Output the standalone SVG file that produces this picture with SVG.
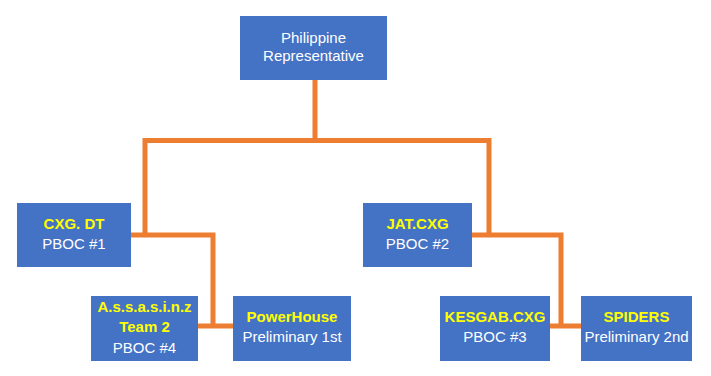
<svg xmlns="http://www.w3.org/2000/svg" width="711" height="376" viewBox="0 0 711 376">
<style>
.box{fill:#4472C4}
.t{font-family:"Liberation Sans",Arial,sans-serif;font-size:15px;fill:#FFFFFF;text-anchor:middle}
.y{font-weight:bold;fill:#FFFF00}
.c{fill:none;stroke:#ED7D31;stroke-width:5;stroke-linecap:butt;stroke-linejoin:miter}
</style>
<rect width="711" height="376" fill="#FFFFFF"/>
<g id="connectors">
<path class="c" d="M315,80 V140.5"/>
<path class="c" d="M145,237 V140.5 H489 V237"/>
<path class="c" d="M131,235 H213 V326"/>
<path class="c" d="M198,326 H233"/>
<path class="c" d="M472,235 H561 V326"/>
<path class="c" d="M550,326 H581"/>
</g>
<g id="philippine-representative">
<rect class="box" x="240" y="16" width="147" height="64"/>
<text class="t" x="313.5" y="43">Philippine</text>
<text class="t" x="313.5" y="60.5">Representative</text>
</g>
<g id="cxg-dt">
<rect class="box" x="17" y="203" width="114" height="64"/>
<text class="t y" x="74" y="229">CXG. DT</text>
<text class="t" x="74" y="249">PBOC #1</text>
</g>
<g id="jat-cxg">
<rect class="box" x="363" y="203" width="109" height="64"/>
<text class="t y" x="417.5" y="229">JAT.CXG</text>
<text class="t" x="417.5" y="249">PBOC #2</text>
</g>
<g id="assassinz">
<rect class="box" x="91" y="296" width="107" height="65"/>
<text class="t y" x="144.5" y="312">A.s.s.a.s.i.n.z</text>
<text class="t y" x="144.5" y="332">Team 2</text>
<text class="t" x="144.5" y="353">PBOC #4</text>
</g>
<g id="powerhouse">
<rect class="box" x="233" y="296" width="118" height="65"/>
<text class="t y" x="292" y="322">PowerHouse</text>
<text class="t" x="292" y="342">Preliminary 1st</text>
</g>
<g id="kesgab-cxg">
<rect class="box" x="440" y="296" width="110" height="65"/>
<text class="t y" x="495" y="322">KESGAB.CXG</text>
<text class="t" x="495" y="342">PBOC #3</text>
</g>
<g id="spiders">
<rect class="box" x="581" y="296" width="111" height="65"/>
<text class="t y" x="636.5" y="322">SPIDERS</text>
<text class="t" x="636.5" y="342">Preliminary 2nd</text>
</g>
</svg>
